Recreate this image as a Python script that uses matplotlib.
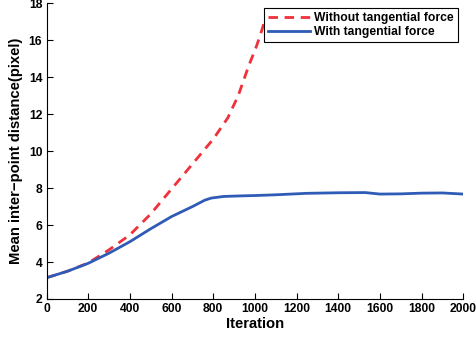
import matplotlib
matplotlib.use("Agg")
import matplotlib.pyplot as plt
import numpy as np

plt.rcParams['font.family'] = ['Liberation Sans', 'DejaVu Sans']
plt.rcParams['font.weight'] = 'bold'

# Without tangential force (red dashed)
x_red = [0, 100, 200, 300, 400, 500, 600, 700, 800, 870, 920, 970, 1010, 1035, 1050]
y_red = [3.15, 3.5, 3.95, 4.66, 5.47, 6.6, 7.95, 9.3, 10.65, 11.8, 13.0, 14.6, 15.75, 16.6, 17.2]

# With tangential force (blue solid)
x_blue = [0, 100, 200, 300, 400, 500, 600, 700, 760, 790, 850, 930, 1000, 1100, 1250, 1300, 1400,
          1530, 1600, 1700, 1800, 1900, 2000]
y_blue = [3.15, 3.5, 3.93, 4.48, 5.1, 5.8, 6.46, 7.0, 7.35, 7.46, 7.55, 7.58, 7.6, 7.64, 7.72, 7.73,
          7.75, 7.76, 7.68, 7.69, 7.73, 7.74, 7.68]

xticks = [0, 200, 400, 600, 800, 1000, 1200, 1400, 1600, 1800, 2000]
yticks = [2, 4, 6, 8, 10, 12, 14, 16, 18]

fig = plt.figure(figsize=(4.77, 3.39), dpi=100)
ax = fig.add_axes([0.0975, 0.118, 0.8735, 0.872])

ax.plot(x_red, y_red, color='#F0303A', linestyle=(0, (3.4, 2.4)), linewidth=2.0,
        label='Without tangential force')
ax.plot(x_blue, y_blue, color='#2E5BB5', linewidth=2.0, label='With tangential force')

ax.set_xlim(0, 2000)
ax.set_ylim(2, 18)
ax.set_xticks(xticks)
ax.set_yticks(yticks)
ax.tick_params(direction='in', length=4, width=0.8, labelsize=8.7, pad=3)
for lab in ax.get_xticklabels() + ax.get_yticklabels():
    lab.set_fontweight('bold')
ax.spines['top'].set_visible(False)
ax.spines['right'].set_visible(False)
ax.set_xlabel('Iteration', fontsize=10.6, fontweight='bold', labelpad=1)
ax.set_ylabel('Mean inter\u2212point distance(pixel)', fontsize=10.7, fontweight='bold', labelpad=4)

leg = ax.legend(loc='upper right', bbox_to_anchor=(0.9866, 0.984), fontsize=8.7, frameon=True,
                fancybox=False, edgecolor='black', framealpha=1, borderpad=0.3,
                handlelength=3.5, handletextpad=0.35, labelspacing=0.2, borderaxespad=0)
leg.get_frame().set_linewidth(0.8)
for t in leg.get_texts():
    t.set_fontweight('bold')

fig.savefig('out.png', dpi=100)
